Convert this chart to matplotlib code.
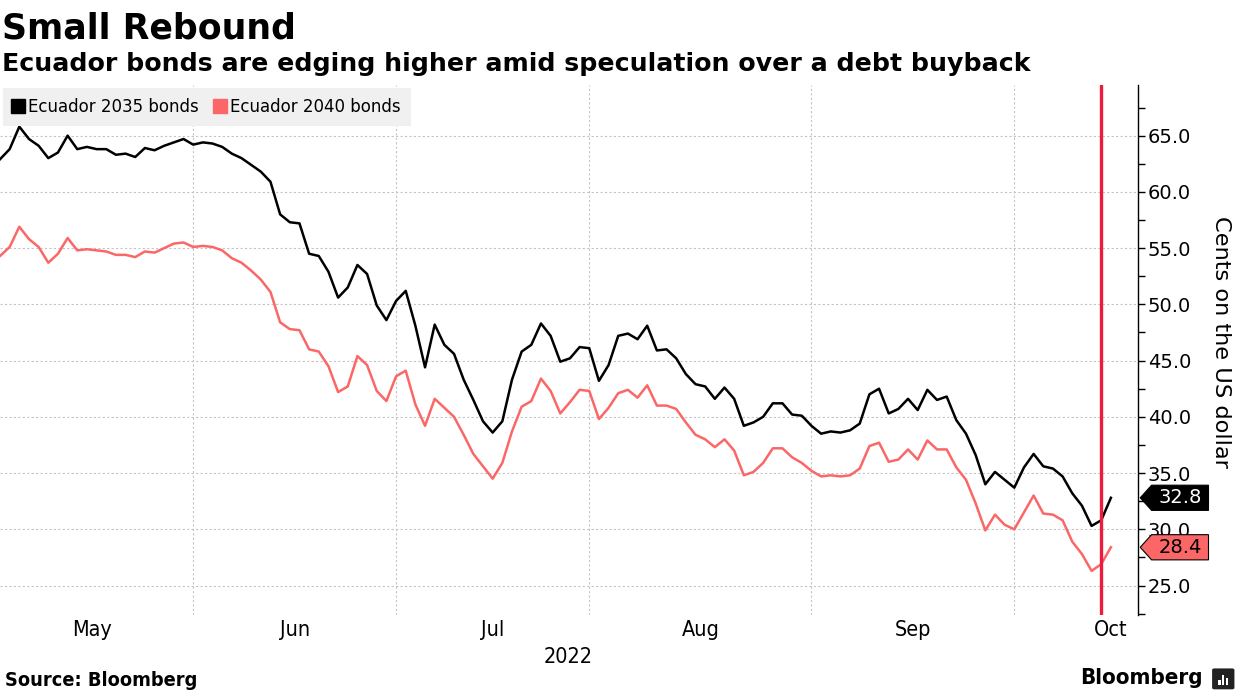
import numpy as np
import pandas as pd
import matplotlib.pyplot as plt
from matplotlib.lines import Line2D
from matplotlib.patches import Polygon, FancyBboxPatch, Rectangle
import matplotlib.transforms as mtransforms

# Trading days (US bond market calendar), data from May 3 2022
holidays = ['2022-05-30', '2022-06-20', '2022-07-04', '2022-09-05', '2022-10-10']
start_date = '2022-05-03'
event_date = '2022-10-17'

bonds_2035 = [62.9, 63.8, 65.8, 64.7, 64.1, 63.0, 63.5, 65.0, 63.8, 64.0,
              63.8, 63.8, 63.3, 63.4, 63.1, 63.9, 63.7, 64.1, 64.4, 64.7,
              64.2, 64.4, 64.3, 64.0, 63.4, 63.0, 62.4, 61.8, 60.9, 58.0,
              57.3, 57.2, 54.5, 54.3, 52.9, 50.6, 51.5, 53.5, 52.7, 49.9,
              48.6, 50.3, 51.2, 48.1, 44.4, 48.2, 46.4, 45.6, 43.3, 41.5,
              39.6, 38.6, 39.6, 43.3, 45.8, 46.4, 48.3, 47.2, 44.9, 45.2,
              46.2, 46.1, 43.2, 44.6, 47.2, 47.4, 46.9, 48.1, 45.9, 46.0,
              45.2, 43.8, 42.9, 42.7, 41.6, 42.6, 41.6, 39.2, 39.5, 40.0,
              41.2, 41.2, 40.2, 40.1, 39.2, 38.5, 38.7, 38.6, 38.8, 39.4,
              42.0, 42.5, 40.3, 40.7, 41.6, 40.6, 42.4, 41.5, 41.8, 39.7,
              38.5, 36.6, 34.0, 35.1, 34.4, 33.7, 35.5, 36.7, 35.6, 35.4,
              34.7, 33.2, 32.1, 30.3, 30.8, 32.8]

bonds_2040 = [54.3, 55.1, 56.9, 55.8, 55.1, 53.7, 54.5, 55.9, 54.8, 54.9,
              54.8, 54.7, 54.4, 54.4, 54.2, 54.7, 54.6, 55.0, 55.4, 55.5,
              55.1, 55.2, 55.1, 54.8, 54.1, 53.7, 53.0, 52.2, 51.1, 48.4,
              47.8, 47.7, 46.0, 45.8, 44.5, 42.2, 42.7, 45.4, 44.6, 42.3,
              41.4, 43.6, 44.1, 41.1, 39.2, 41.6, 40.8, 40.0, 38.4, 36.7,
              35.6, 34.5, 35.9, 38.7, 40.9, 41.4, 43.4, 42.3, 40.3, 41.3,
              42.4, 42.3, 39.8, 40.8, 42.1, 42.4, 41.7, 42.8, 41.0, 41.0,
              40.7, 39.5, 38.4, 38.0, 37.3, 38.0, 37.0, 34.8, 35.1, 35.9,
              37.2, 37.2, 36.4, 35.9, 35.2, 34.7, 34.8, 34.7, 34.8, 35.4,
              37.4, 37.7, 36.0, 36.2, 37.1, 36.2, 37.9, 37.1, 37.1, 35.5,
              34.4, 32.3, 29.9, 31.3, 30.4, 30.0, 31.5, 33.0, 31.4, 31.3,
              30.8, 28.9, 27.8, 26.3, 26.9, 28.4]

series_names = ['Ecuador 2035 bonds', 'Ecuador 2040 bonds']
y_ticks = [25, 30, 35, 40, 45, 50, 55, 60, 65]

BLACK = '#000000'
RED = '#fb6767'
EVENT = '#ee1c3c'
GRID = '#c4c4c4'
NARROW = dict(family='DejaVu Sans', stretch='condensed')

# trading-day axis
cal = pd.offsets.CustomBusinessDay(holidays=holidays)
all_days = pd.date_range('2022-05-02', '2022-11-01', freq=cal)
offset = all_days.get_loc(pd.Timestamp(start_date))
pos_all = np.arange(len(all_days)) - offset
x = np.arange(len(bonds_2035))

month_first = [i for i in range(len(all_days))
               if i == 0 or all_days[i].month != all_days[i - 1].month]
month_pos = [pos_all[i] for i in month_first]
month_centers = [(month_pos[k] + month_pos[k + 1]) / 2 for k in range(len(month_pos) - 1)]
month_labels = [all_days[i].strftime('%b') for i in month_first[:-1]]
event_x = pos_all[all_days.get_loc(pd.Timestamp(event_date))]

fig = plt.figure(figsize=(12.4, 6.97), dpi=100)
ax = fig.add_axes([0.0, 0.118, 0.9177, 0.760])

ax.plot(x, bonds_2040, color=RED, lw=1.8, zorder=3)
ax.plot(x, bonds_2035, color=BLACK, lw=1.8, zorder=4)
ax.axvline(event_x, color=EVENT, lw=2.4, zorder=5)

ax.set_xlim(0, 117.8)
ax.set_ylim(22.4, 69.5)

for s in ['top', 'left', 'bottom']:
    ax.spines[s].set_visible(False)
ax.spines['right'].set_linewidth(1.0)

ax.yaxis.tick_right()
ax.set_yticks(y_ticks)
ax.set_yticks(np.arange(22.5, 69.5, 2.5), minor=True)
ax.set_yticklabels([f'{v:.1f}' for v in y_ticks])
ax.tick_params(axis='y', which='both', direction='out', length=5, width=1,
               labelsize=14, pad=2)

ax.set_xticks(month_centers)
ax.set_xticklabels(month_labels, fontsize=15.5, **NARROW)
ax.set_xticks(month_pos[1:-1], minor=True)
ax.tick_params(axis='x', which='both', length=0, pad=4)

ax.grid(axis='y', which='major', color=GRID, lw=0.8, ls=(0, (2, 2)))
ax.grid(axis='x', which='minor', color=GRID, lw=0.8, ls=(0, (2, 2)))

# legend
handles = [Line2D([], [], marker='s', ls='none', color=c, markersize=10)
           for c in [BLACK, RED]]
leg = ax.legend(handles, series_names, loc='upper left', bbox_to_anchor=(0.0, 1.0),
                ncol=2, frameon=True, fontsize=12, handlelength=0.6,
                handletextpad=0.3, columnspacing=1.0, borderpad=0.62,
                borderaxespad=0.15, fancybox=False)
leg.get_frame().set_facecolor('#f0f0f0')
leg.get_frame().set_edgecolor('none')
leg.get_frame().set_alpha(1)

# last value tags
trans = mtransforms.blended_transform_factory(ax.transAxes, ax.transData)
for val, face, txt in [(bonds_2035[-1], BLACK, 'white'), (bonds_2040[-1], RED, BLACK)]:
    h = 1.12
    poly = Polygon([(1.002, val), (1.012, val + h), (1.062, val + h),
                    (1.062, val - h), (1.012, val - h)], closed=True,
                   transform=trans, facecolor=face, edgecolor=BLACK, lw=0.8,
                   clip_on=False, zorder=6)
    ax.add_patch(poly)
    ax.text(1.037, val, f'{val:.1f}', transform=trans, ha='center', va='center',
            fontsize=14, color=txt, zorder=7, clip_on=False)

fig.text(0.985, 0.51, 'Cents on the US dollar', rotation=270, ha='center',
         va='center', fontsize=16.2)
fig.text(0.458, 0.058, '2022', ha='center', va='center', fontsize=15.5, **NARROW)

fig.text(0.002, 0.945, 'Small Rebound', fontsize=25, fontweight='bold', ha='left')
fig.text(0.002, 0.898, 'Ecuador bonds are edging higher amid speculation over a debt buyback',
         fontsize=18.2, fontweight='bold', ha='left')
fig.text(0.004, 0.016, 'Source: Bloomberg', fontsize=14.3,
         fontweight='bold', ha='left', **NARROW)
fig.text(0.970, 0.018, 'Bloomberg', fontsize=16,
         fontweight='bold', ha='right', **NARROW)

# small logo box
logo = FancyBboxPatch((0.9795, 0.013), 0.014, 0.026, boxstyle='round,pad=0.002',
                      transform=fig.transFigure, facecolor='#222222', edgecolor='none')
fig.patches.append(logo)
for bx, bh in [(0.9825, 0.008), (0.9855, 0.014), (0.9885, 0.010)]:
    fig.patches.append(Rectangle((bx, 0.017), 0.0018, bh, transform=fig.transFigure,
                                 facecolor='white', edgecolor='none'))

fig.savefig('out.png', dpi=100)
